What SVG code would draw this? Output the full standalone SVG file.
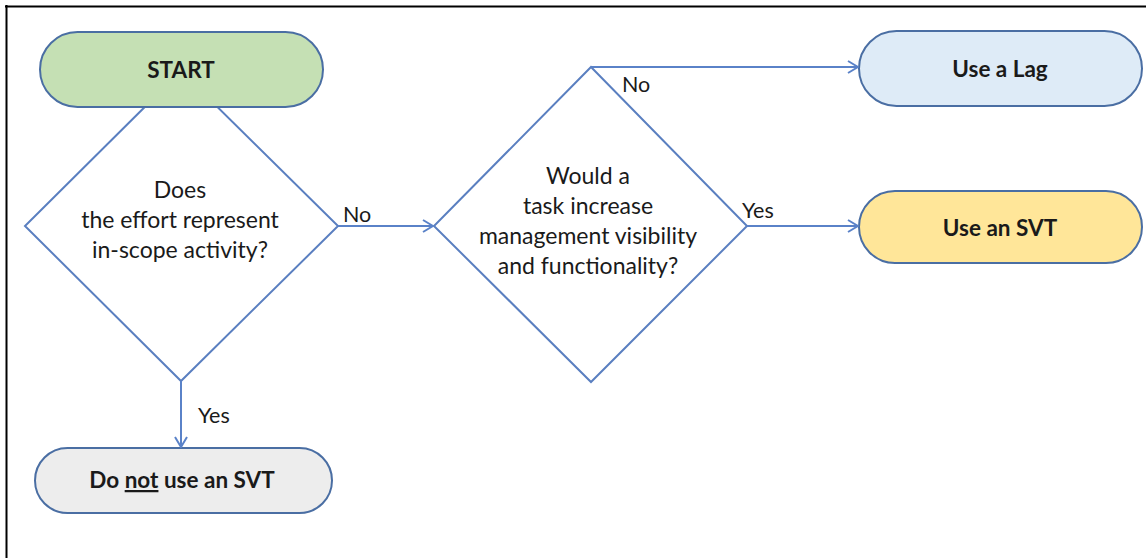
<svg xmlns="http://www.w3.org/2000/svg" width="1146" height="558" viewBox="0 0 1146 558">
<defs>
<style>
.t{font-family:Lato,"Liberation Sans",sans-serif;font-size:23px;fill:#1a1a1a;text-anchor:middle}
.b{font-weight:bold;font-size:22.5px}
.l{font-family:Lato,"Liberation Sans",sans-serif;font-size:21.5px;fill:#1a1a1a}
.term{stroke:#4a6ea3;stroke-width:2}
.dec{fill:#ffffff;stroke:#5a7fc0;stroke-width:2}
.c{fill:none;stroke:#5a82c8;stroke-width:2}
</style>
<marker id="ah" viewBox="0 0 12 14" refX="11" refY="7" markerWidth="12" markerHeight="14" markerUnits="userSpaceOnUse" orient="auto">
<path d="M1,1 L11,7 L1,13" fill="none" stroke="#5a82c8" stroke-width="2"/>
</marker>
</defs>
<rect x="0" y="0" width="1146" height="558" fill="#ffffff"/>
<g id="frame">
<line x1="5" y1="6.5" x2="1146" y2="6.5" stroke="#000" stroke-width="2"/>
<line x1="6.5" y1="5" x2="6.5" y2="558" stroke="#000" stroke-width="2"/>
</g>
<g id="decision1">
<polygon class="dec" points="181,71 338,226 181,381 25,226"/>
<text class="t" x="180" y="198">Does</text>
<text class="t" x="180" y="228">the effort represent</text>
<text class="t" x="180" y="258">in-scope activity?</text>
</g>
<g id="start">
<rect class="term" x="40" y="32" width="283" height="75" rx="37.5" fill="#c5e0b4"/>
<text class="t b" x="181" y="78">START</text>
</g>
<g id="decision2">
<polygon class="dec" points="591,67 747,226 591,382 434,226"/>
<text class="t" x="588" y="184">Would a</text>
<text class="t" x="588" y="214">task increase</text>
<text class="t" x="588" y="244">management visibility</text>
<text class="t" x="588" y="274">and functionality?</text>
</g>
<g id="lag">
<rect class="term" x="859" y="31" width="283" height="75" rx="37.5" fill="#deebf7"/>
<text class="t b" x="1000" y="77">Use a Lag</text>
</g>
<g id="svt">
<rect class="term" x="859" y="191" width="283" height="72" rx="36" fill="#ffe699"/>
<text class="t b" x="1000" y="236">Use an SVT</text>
</g>
<g id="nosvt">
<rect class="term" x="35" y="448" width="297" height="65" rx="32.5" fill="#ededed"/>
<text class="t b" x="182" y="488">Do <tspan text-decoration="underline">not</tspan> use an SVT</text>
</g>
<g id="connectors">
<line class="c" x1="338" y1="226" x2="433" y2="226" marker-end="url(#ah)"/>
<polyline class="c" points="591,67 858,67" marker-end="url(#ah)"/>
<line class="c" x1="747" y1="226" x2="858" y2="226" marker-end="url(#ah)"/>
<line class="c" x1="181" y1="381" x2="181" y2="447" marker-end="url(#ah)"/>
<text class="l" x="343" y="222">No</text>
<text class="l" x="622" y="92">No</text>
<text class="l" x="742" y="218">Yes</text>
<text class="l" x="198" y="423">Yes</text>
</g>
</svg>
